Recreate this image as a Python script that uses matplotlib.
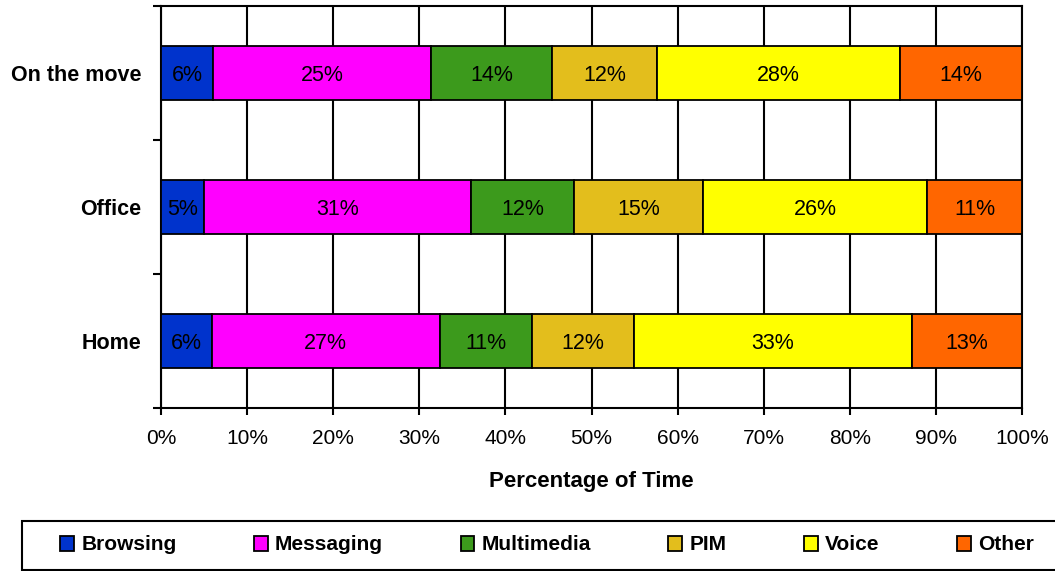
import matplotlib.pyplot as plt
from matplotlib.patches import Rectangle
import numpy as np

plt.rcParams['font.family'] = ['Liberation Sans', 'DejaVu Sans']

# usage share (%) per location, bottom row first
locations = ['Home', 'Office', 'On the move']
activities = ['Browsing', 'Messaging', 'Multimedia', 'PIM', 'Voice', 'Other']
browsing = [6, 5, 6]
messaging = [27, 31, 25]
multimedia = [11, 12, 14]
pim = [12, 15, 12]
voice = [33, 26, 28]
other = [13, 11, 14]
colors = ['#0033CC', '#FF00FF', '#3C9A1C', '#E3BE1C', '#FFFF00', '#FF6600']

series = [browsing, messaging, multimedia, pim, voice, other]
values = np.array(series, dtype=float)
# 100% stacked: each row is scaled to its own total
shares = values / values.sum(axis=0) * 100

W, H = 1055, 571
fig = plt.figure(figsize=(W / 100, H / 100), dpi=100)
ax = fig.add_axes([161 / W, 1 - 408 / H, 861 / W, 402 / H])

y = np.arange(len(locations))
left = np.zeros(len(locations))
for name, share, raw, color in zip(activities, shares, values, colors):
    ax.barh(y, share, left=left, height=0.4, color=color, edgecolor='black',
            linewidth=1.3, label=name, zorder=3)
    for yi, l, s, v in zip(y, left, share, raw):
        ax.text(l + s / 2, yi, f'{v:.0f}%', ha='center', va='center_baseline',
                fontsize=15.5, color='black', zorder=4)
    left += share

ax.set_xlim(0, 100)
ax.set_ylim(-0.5, 2.5)
ax.set_xticks(np.arange(0, 101, 10))
ax.set_xticklabels([f'{v}%' for v in range(0, 101, 10)], fontsize=15)
ax.set_yticks(y)
ax.set_yticklabels(locations, fontsize=15.5, fontweight='bold')
ax.set_yticks([-0.5, 0.5, 1.5, 2.5], minor=True)
ax.tick_params(axis='y', which='major', length=0, pad=14)
ax.tick_params(axis='y', which='minor', length=6, width=1.5, direction='out')
ax.tick_params(axis='x', length=5, width=1.5, direction='out', pad=10)

ax.grid(axis='x', color='black', linewidth=1.5, zorder=1)
for side in ['left', 'right', 'top', 'bottom']:
    ax.spines[side].set_linewidth(1.5)
    ax.spines[side].set_color('black')

ax.set_xlabel('Percentage of Time', fontsize=16, fontweight='bold', labelpad=17)

# legend box runs off the right edge
fig.patches.append(Rectangle((22 / W, 1 / H), 1045 / W, 49 / H, transform=fig.transFigure,
                             facecolor='white', edgecolor='black', linewidth=1.5))
fig.legend(loc='center left', bbox_to_anchor=(52 / W, 26 / H, 990 / W, 0),
           mode='expand', ncol=6, frameon=False, handlelength=0.65,
           handleheight=0.7, handletextpad=0.35, borderaxespad=0,
           prop={'size': 15, 'weight': 'bold'})

fig.savefig('out.png', dpi=100)
